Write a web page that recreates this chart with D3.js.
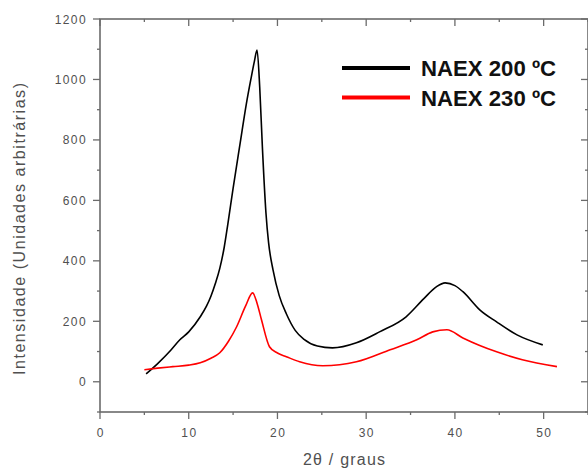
<!DOCTYPE html>
<html>
<head>
<meta charset="utf-8">
<script src="https://cdn.jsdelivr.net/npm/d3@7"></script>
<style>
  body { margin: 0; background: #fff; }
  svg text { font-family: "Liberation Sans", Arial, sans-serif; }
</style>
</head>
<body>
<svg id="chart" width="588" height="470"></svg>
<script>
// NAEX 200 ºC (black)
const naex200 = [
  [5.2, 26], [6.5, 60], [8, 105], [9, 139], [10, 165], [11.3, 215], [12.0, 250],
  [12.5, 283], [13.0, 325], [13.5, 375], [14.0, 445], [14.4, 520], [15.0, 640],
  [15.8, 790], [16.5, 920], [17.0, 1000], [17.4, 1060], [17.7, 1097], [18.0, 975],
  [18.3, 777], [18.7, 560], [19.0, 460], [19.5, 370], [20.2, 285], [21.0, 225],
  [22.0, 170], [23.0, 140], [24.5, 118], [26.2, 112], [28.9, 129], [31.5, 165],
  [34.5, 215], [36.5, 275], [37.9, 314], [38.9, 327], [40.0, 318], [40.9, 298],
  [42.8, 238], [44.7, 198], [47.0, 155], [49.9, 122]
];
// NAEX 230 ºC (red)
const naex230 = [
  [5.0, 40], [6.5, 45], [8.2, 50], [10, 55], [11.3, 63], [12.5, 78], [13.5, 96],
  [14.5, 135], [15.4, 182], [16.4, 250], [17.2, 294], [17.7, 260], [18.2, 205],
  [19.1, 116], [20.0, 95], [21.0, 83], [22.5, 66], [25.1, 53], [28.9, 66],
  [32.7, 106], [35.7, 139], [37.5, 165], [39.1, 172], [40.9, 145], [42.8, 120],
  [44.7, 99], [47.6, 73], [51.5, 50]
];
const seriesNames = ['NAEX 200 ºC', 'NAEX 230 ºC'];
const seriesColors = ['#000000', '#ff0000'];
const xTicks = [0, 10, 20, 30, 40, 50];
const yTicks = [0, 200, 400, 600, 800, 1000, 1200];

const svg = d3.select('#chart');
const margin = { left: 100, right: 0, top: 19, bottom: 58 };
const width = 588, height = 470;
const axisColor = '#6b6b6b';
const labelColor = '#505050';

const x = d3.scaleLinear().domain([0, 55]).range([margin.left, width - margin.right]);
const y = d3.scaleLinear().domain([-100, 1200]).range([height - margin.bottom, margin.top]);

// frame
svg.append('rect')
  .attr('x', x(0)).attr('y', y(1200))
  .attr('width', x(55) - x(0)).attr('height', y(-100) - y(1200))
  .attr('fill', 'none').attr('stroke', axisColor).attr('stroke-width', 1.6);

// ticks (same direction on opposite sides, like the original)
const tickG = svg.append('g').attr('stroke', axisColor).attr('stroke-width', 1.3);
d3.range(0, 56, 5).forEach(v => {
  const len = v % 10 === 0 ? 7 : 3;
  tickG.append('line').attr('x1', x(v)).attr('x2', x(v)).attr('y1', y(-100)).attr('y2', y(-100) + len);
  tickG.append('line').attr('x1', x(v)).attr('x2', x(v)).attr('y1', y(1200)).attr('y2', y(1200) + len);
});
d3.range(-100, 1201, 100).forEach(v => {
  const len = v % 200 === 0 ? 7 : 3;
  tickG.append('line').attr('y1', y(v)).attr('y2', y(v)).attr('x1', x(0)).attr('x2', x(0) - len);
  tickG.append('line').attr('y1', y(v)).attr('y2', y(v)).attr('x1', x(55)).attr('x2', x(55) - len);
});

// tick labels
svg.append('g').selectAll('text').data(xTicks).join('text')
  .attr('x', d => x(d) + 0.7).attr('y', y(-100) + 25)
  .attr('text-anchor', 'middle').attr('font-size', 12).attr('letter-spacing', 1.4)
  .attr('fill', labelColor)
  .text(d => d);
svg.append('g').selectAll('text').data(yTicks).join('text')
  .attr('x', x(0) - 13).attr('y', d => y(d) + 4.5)
  .attr('text-anchor', 'end').attr('font-size', 12).attr('letter-spacing', 1.4)
  .attr('fill', labelColor)
  .text(d => d);

// axis titles
svg.append('text').attr('x', 303).attr('y', 465)
  .attr('font-size', 16).attr('fill', labelColor)
  .attr('textLength', 82).attr('lengthAdjust', 'spacing')
  .text('2θ / graus');
svg.append('text')
  .attr('transform', 'translate(25, 375) rotate(-90)')
  .attr('font-size', 16).attr('fill', labelColor)
  .attr('textLength', 292).attr('lengthAdjust', 'spacing')
  .text('Intensidade (Unidades arbitrárias)');

// lines
const line = d3.line().x(d => x(d[0])).y(d => y(d[1])).curve(d3.curveMonotoneX);
[naex200, naex230].forEach((data, i) => {
  svg.append('path').datum(data)
    .attr('d', line).attr('fill', 'none')
    .attr('stroke', seriesColors[i]).attr('stroke-width', 1.6);
});

// legend
seriesNames.forEach((name, i) => {
  const ly = 68 + i * 29.5;
  svg.append('line').attr('x1', 342).attr('x2', 410).attr('y1', ly).attr('y2', ly)
    .attr('stroke', seriesColors[i]).attr('stroke-width', 4);
  svg.append('text').attr('x', 421).attr('y', ly + 8)
    .attr('font-size', 22).attr('font-weight', 'bold').attr('fill', '#111')
    .attr('textLength', 135).attr('lengthAdjust', 'spacingAndGlyphs')
    .text(name);
});
</script>
</body>
</html>
